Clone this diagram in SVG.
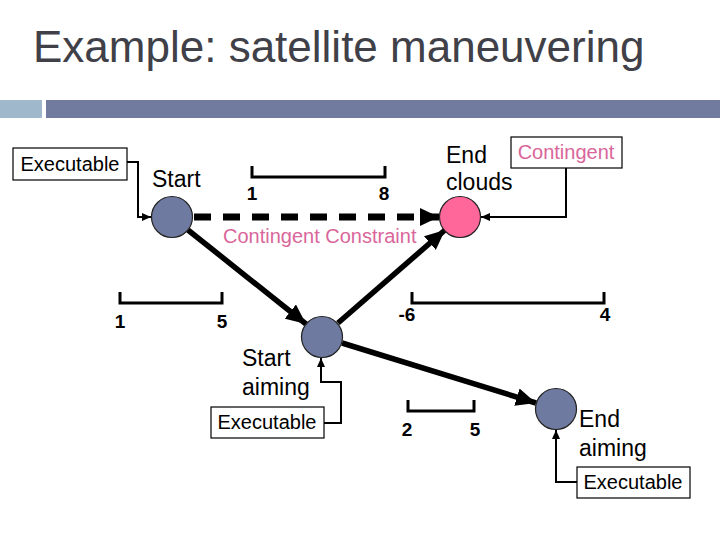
<svg xmlns="http://www.w3.org/2000/svg" width="720" height="540" viewBox="0 0 720 540">
<defs>
<style>
text{font-family:"Liberation Sans",Arial,sans-serif;}
.title{font-size:44px;fill:#404048;}
.lbl{font-size:23px;fill:#000;}
.box{fill:#fff;stroke:#000;stroke-width:1.2;}
.boxt{font-size:20px;fill:#000;text-anchor:middle;}
.pink{fill:#d9669a;}
.num{font-size:19px;font-weight:bold;fill:#000;text-anchor:middle;}
.node{fill:#6e7aa0;stroke:#222;stroke-width:1.2;}
.thick{stroke:#000;stroke-width:5.5;fill:none;marker-end:url(#big);}
.thin{stroke:#000;stroke-width:2;fill:none;marker-end:url(#small);}
.bar{stroke:#000;stroke-width:3;fill:none;}
</style>
<marker id="big" markerUnits="userSpaceOnUse" markerWidth="22" markerHeight="18" refX="20" refY="9" orient="auto">
<path d="M0,0 L20,9 L0,18 Z" fill="#000"/>
</marker>
<marker id="small" markerUnits="userSpaceOnUse" markerWidth="10" markerHeight="8" refX="9" refY="4" orient="auto">
<path d="M0,0 L9,4 L0,8 Z" fill="#000"/>
</marker>
</defs>
<rect width="720" height="540" fill="#fff"/>
<text class="title" x="33" y="62">Example: satellite maneuvering</text>
<rect x="0" y="100" width="42" height="18" fill="#a0b8cc"/>
<rect x="46" y="100" width="674" height="18" fill="#717b9f"/>

<g id="connectors">
<line x1="194" y1="217" x2="439" y2="217" stroke="#000" stroke-width="7" stroke-dasharray="17,12"/>
<path d="M420,208 L439,217 L420,226 Z" fill="#000"/>
<line class="thick" x1="188" y1="230" x2="306" y2="324"/>
<line class="thick" x1="338" y1="323" x2="445" y2="230"/>
<line class="thick" x1="342" y1="343" x2="536" y2="403"/>
<polyline class="thin" points="127,162 138,162 138,217 151,217"/>
<polyline class="thin" points="566,168 566,217 481,217"/>
<polyline class="thin" points="324,423 341,423 341,382 321,382 321,358"/>
<polyline class="thin" points="577,482 556,482 556,430"/>
</g>

<g id="bars">
<path class="bar" d="M252,166 V177 H385 V166"/>
<text class="num" x="252" y="200">1</text>
<text class="num" x="384" y="200">8</text>
<path class="bar" d="M120,292 V303 H222 V292"/>
<text class="num" x="120" y="328">1</text>
<text class="num" x="222" y="328">5</text>
<path class="bar" d="M412,292 V303 H604 V292"/>
<text class="num" x="407" y="321">-6</text>
<text class="num" x="605" y="321">4</text>
<path class="bar" d="M408,400 V411 H474 V400"/>
<text class="num" x="407" y="436">2</text>
<text class="num" x="475" y="436">5</text>
</g>

<text class="pink" x="223" y="243" font-size="20">Contingent Constraint</text>

<g id="exec1">
<rect class="box" x="13" y="148" width="114" height="32"/>
<text class="boxt" x="70" y="171">Executable</text>
</g>
<g id="exec2">
<rect class="box" x="211" y="407" width="113" height="31"/>
<text class="boxt" x="267" y="429">Executable</text>
</g>
<g id="exec3">
<rect class="box" x="577" y="467" width="113" height="31"/>
<text class="boxt" x="633" y="489">Executable</text>
</g>
<g id="contingent">
<rect class="box" x="511" y="137" width="111" height="31"/>
<text class="boxt pink" x="566" y="159">Contingent</text>
</g>

<g id="start">
<circle class="node" cx="172" cy="217" r="20.5"/>
<text class="lbl" x="152" y="187">Start</text>
</g>
<g id="endclouds">
<circle cx="460" cy="217" r="20.5" fill="#ff6699" stroke="#222" stroke-width="1.2"/>
<text class="lbl" x="446" y="163">End</text>
<text class="lbl" x="446" y="190">clouds</text>
</g>
<g id="startaiming">
<circle class="node" cx="322" cy="337" r="20.5"/>
<text class="lbl" x="242" y="366">Start</text>
<text class="lbl" x="242" y="395">aiming</text>
</g>
<g id="endaiming">
<circle class="node" cx="556" cy="409" r="20.5"/>
<text class="lbl" x="579" y="427">End</text>
<text class="lbl" x="579" y="456">aiming</text>
</g>
</svg>
